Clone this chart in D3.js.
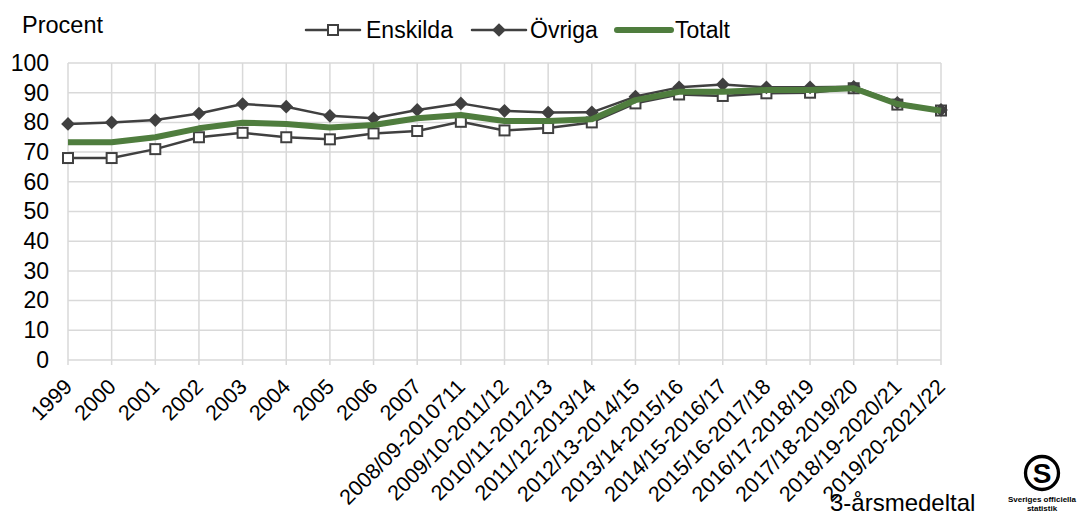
<!DOCTYPE html>
<html>
<head>
<meta charset="utf-8">
<script src="https://cdn.jsdelivr.net/npm/d3@7"></script>
<style>
  body { margin: 0; background: #fff; }
  svg { font-family: "Liberation Sans", Arial, sans-serif; }
</style>
</head>
<body>
<svg id="chart" width="1078" height="517"></svg>
<script>
const MARGINTOP    = 63;
const MARGINLEFT   = 68;
const PLOTRIGHT    = 941;
const PLOTBOTTOM   = 360;

var categories = ["1999","2000","2001","2002","2003","2004","2005","2006","2007",
    "2008/09-2010711","2009/10-2011/12","2010/11-2012/13","2011/12-2013/14",
    "2012/13-2014/15","2013/14-2015/16","2014/15-2016/17","2015/16-2017/18",
    "2016/17-2018/19","2017/18-2019/20","2018/19-2020/21","2019/20-2021/22"];

var enskilda = [68,68,71,75,76.5,75,74.3,76.3,77.1,80.2,77.3,78.1,80,86.4,89.4,88.9,89.8,90,91.5,86,84];
var ovriga   = [79.5,80,80.8,83,86.2,85.3,82.2,81.4,84.2,86.4,83.9,83.3,83.4,88.7,91.8,92.8,91.8,91.8,92,86.6,84.2];
var totalt   = [73.3,73.3,75,78,79.9,79.5,78.3,79.1,81.4,82.5,80.5,80.5,81.1,87.5,90.3,90.3,90.9,90.9,91.5,86.2,83.9];

var yTicks = [0,10,20,30,40,50,60,70,80,90,100];

var vis = d3.select("#chart");

var xRange = d3.scalePoint().domain(categories).range([MARGINLEFT, PLOTRIGHT]);
var yRange = d3.scaleLinear().domain([0,100]).range([PLOTBOTTOM, MARGINTOP]);

// grid
vis.append("g").selectAll("line").data(yTicks).join("line")
    .attr("x1", MARGINLEFT).attr("x2", PLOTRIGHT)
    .attr("y1", d => yRange(d)).attr("y2", d => yRange(d))
    .attr("stroke", "#d9d9d9").attr("stroke-width", 1.5);
vis.append("g").selectAll("line").data(categories).join("line")
    .attr("x1", d => xRange(d)).attr("x2", d => xRange(d))
    .attr("y1", MARGINTOP).attr("y2", PLOTBOTTOM + 5)
    .attr("stroke", "#d9d9d9").attr("stroke-width", 1.5);

// y labels
var yAxis = d3.axisLeft(yRange).tickValues(yTicks).tickSize(0).tickPadding(19);
var yg = vis.append("g").attr("transform", "translate(" + MARGINLEFT + ",0)").call(yAxis);
yg.select(".domain").remove();
yg.selectAll("text").attr("font-size", 23).attr("fill", "#000")
    .attr("font-family", "Liberation Sans, Arial, sans-serif");

// x labels
var xAxis = d3.axisBottom(xRange).tickSize(0).tickPadding(0);
var xg = vis.append("g").attr("transform", "translate(0," + PLOTBOTTOM + ")").call(xAxis);
xg.select(".domain").remove();
xg.selectAll("text")
    .attr("font-size", 21.5).attr("fill", "#000")
    .attr("font-family", "Liberation Sans, Arial, sans-serif")
    .attr("text-anchor", "end")
    .attr("y", 0).attr("dy", 0)
    .attr("transform", "translate(5,28) rotate(-45)");

var line = d3.line().x((d,i) => xRange(categories[i])).y(d => yRange(d));

function drawSeries(values, colour, width){
    vis.append("path").datum(values)
        .attr("d", line).attr("fill", "none")
        .attr("stroke", colour).attr("stroke-width", width)
        .attr("stroke-linejoin", "round");
}

drawSeries(enskilda, "#404040", 2.5);
vis.append("g").selectAll("rect").data(enskilda).join("rect")
    .attr("x", (d,i) => xRange(categories[i]) - 5)
    .attr("y", d => yRange(d) - 5)
    .attr("width", 10).attr("height", 10)
    .attr("fill", "#fff").attr("stroke", "#404040").attr("stroke-width", 2);

drawSeries(ovriga, "#404040", 2.5);
var diamond = d3.symbol().type(d3.symbolDiamond2).size(120);
vis.append("g").selectAll("path").data(ovriga).join("path")
    .attr("d", diamond)
    .attr("transform", (d,i) => "translate(" + xRange(categories[i]) + "," + yRange(d) + ")")
    .attr("fill", "#404040");

drawSeries(totalt, "#4f7d3e", 6);

// titles
vis.append("text").attr("x", 22).attr("y", 33).attr("font-size", 23.5).text("Procent");
vis.append("text").attr("x", 830).attr("y", 511).attr("font-size", 24).text("3-årsmedeltal");

// legend
var legend = [
    {name: "Enskilda", x: 306, tx: 366, marker: "square", colour: "#404040", w: 2.5},
    {name: "Övriga", x: 472, tx: 530, marker: "diamond", colour: "#404040", w: 2.5},
    {name: "Totalt", x: 617, tx: 675, marker: null, colour: "#4f7d3e", w: 6}
];
var lg = vis.append("g");
legend.forEach(function(l){
    lg.append("line").attr("x1", l.x).attr("x2", l.x + 54).attr("y1", 30).attr("y2", 30)
        .attr("stroke", l.colour).attr("stroke-width", l.w).attr("stroke-linecap", "round");
    if(l.marker == "square"){
        lg.append("rect").attr("x", l.x + 22).attr("y", 25).attr("width", 10).attr("height", 10)
            .attr("fill", "#fff").attr("stroke", l.colour).attr("stroke-width", 2);
    } else if(l.marker == "diamond"){
        lg.append("path").attr("d", diamond).attr("transform", "translate(" + (l.x + 27) + ",30)")
            .attr("fill", l.colour);
    }
    lg.append("text").attr("x", l.tx).attr("y", 37.5).attr("font-size", 23).text(l.name);
});

// logo
var logo = vis.append("g").attr("transform", "translate(1042,473)");
logo.append("circle").attr("r", 16.5).attr("fill", "none").attr("stroke", "#000").attr("stroke-width", 3.3);
logo.append("text").attr("text-anchor", "middle").attr("y", 10).attr("font-size", 28)
    .attr("font-weight", "bold").text("S");
logo.append("text").attr("text-anchor", "middle").attr("y", 29).attr("font-size", 8).attr("font-weight", "bold").text("Sveriges officiella");
logo.append("text").attr("text-anchor", "middle").attr("y", 38).attr("font-size", 8).attr("font-weight", "bold").text("statistik");
</script>
</body>
</html>
